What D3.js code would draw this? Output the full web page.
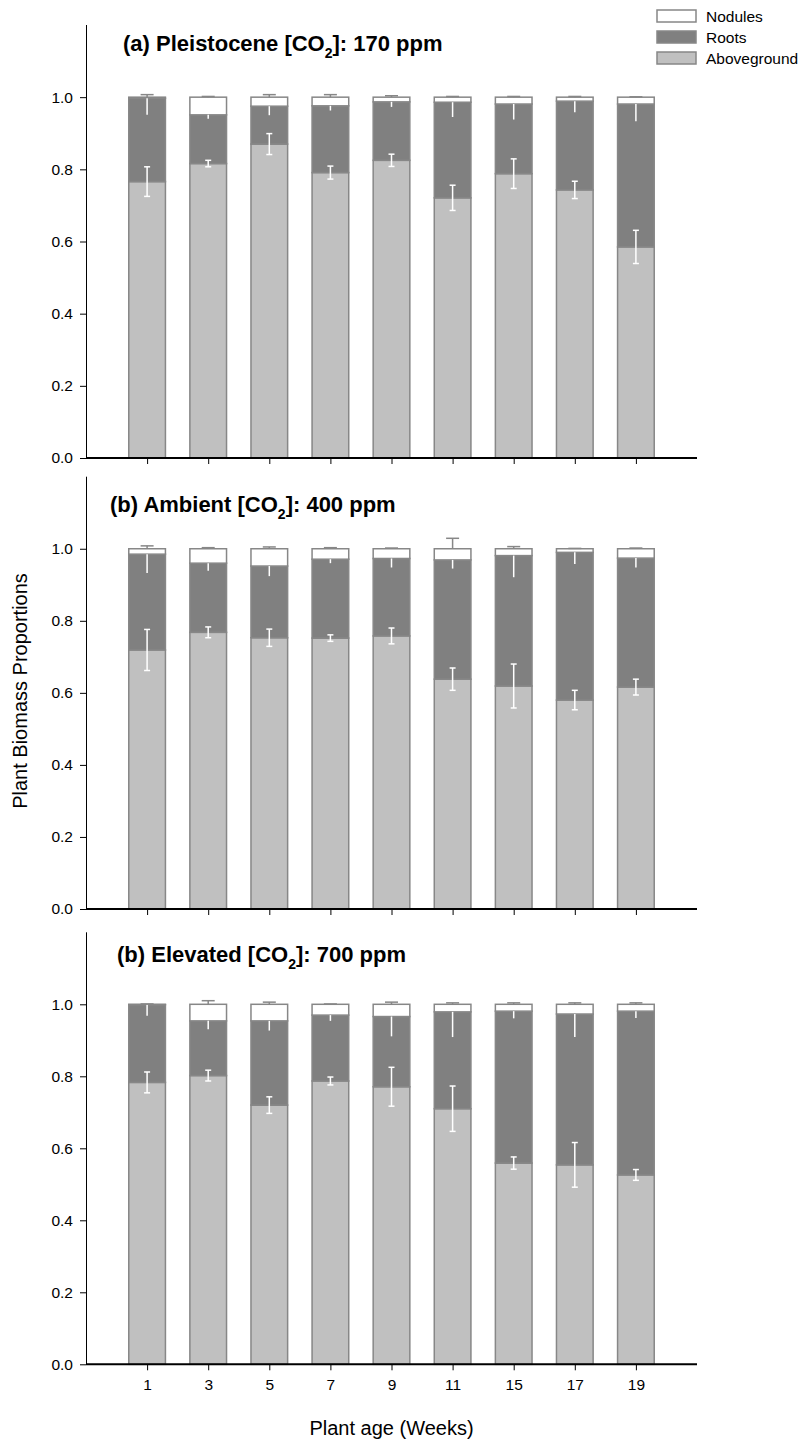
<!DOCTYPE html>
<html>
<head>
<meta charset="utf-8">
<script src="https://cdn.jsdelivr.net/npm/d3@7"></script>
<style>
  html, body { margin: 0; padding: 0; background: #fff; }
  svg { display: block; font-family: "Liberation Sans", Arial, Helvetica, sans-serif; }
</style>
</head>
<body>
<svg id="chart" width="804" height="1441"></svg>
<script>
// Plant age categories (weeks)
const weeks = ["1", "3", "5", "7", "9", "11", "15", "17", "19"];
const yTicks = [0, 0.2, 0.4, 0.6, 0.8, 1.0];
const componentNames = ["Nodules", "Roots", "Aboveground"];

// Panel titles (CO2 subscript handled separately)
const titlePrefix = ["(a) Pleistocene [CO", "(b) Ambient [CO", "(b) Elevated [CO"];
const titleSub = "2";
const titleSuffix = ["]: 170 ppm", "]: 400 ppm", "]: 700 ppm"];

// (a) 170 ppm — biomass proportions and standard errors
const above170    = [0.766, 0.816, 0.870, 0.791, 0.825, 0.721, 0.788, 0.743, 0.585];
const roots170    = [0.231, 0.135, 0.105, 0.185, 0.162, 0.265, 0.193, 0.246, 0.396];
const nodules170  = [0.003, 0.049, 0.025, 0.024, 0.013, 0.014, 0.019, 0.011, 0.019];
const aboveErr170 = [0.041, 0.009, 0.029, 0.018, 0.017, 0.035, 0.041, 0.024, 0.046];
const rootsErr170 = [0.046, 0.011, 0.025, 0.013, 0.014, 0.041, 0.043, 0.031, 0.048];
const nodErr170   = [0.007, 0.002, 0.007, 0.007, 0.004, 0.002, 0.002, 0.002, 0.001];

// (b) 400 ppm
const above400    = [0.719, 0.768, 0.753, 0.752, 0.758, 0.638, 0.619, 0.580, 0.616];
const roots400    = [0.266, 0.192, 0.199, 0.219, 0.215, 0.331, 0.362, 0.410, 0.358];
const nodules400  = [0.015, 0.040, 0.048, 0.029, 0.027, 0.031, 0.019, 0.010, 0.026];
const aboveErr400 = [0.057, 0.015, 0.024, 0.009, 0.022, 0.031, 0.061, 0.027, 0.022];
const rootsErr400 = [0.052, 0.021, 0.028, 0.011, 0.025, 0.024, 0.060, 0.032, 0.026];
const nodErr400   = [0.008, 0.003, 0.005, 0.003, 0.002, 0.029, 0.006, 0.001, 0.002];

// (c) 700 ppm
const above700    = [0.783, 0.802, 0.720, 0.787, 0.771, 0.710, 0.559, 0.554, 0.526];
const roots700    = [0.216, 0.152, 0.234, 0.183, 0.195, 0.269, 0.422, 0.419, 0.455];
const nodules700  = [0.001, 0.046, 0.046, 0.030, 0.034, 0.021, 0.019, 0.027, 0.019];
const aboveErr700 = [0.029, 0.015, 0.023, 0.011, 0.054, 0.063, 0.017, 0.062, 0.015];
const rootsErr700 = [0.031, 0.023, 0.027, 0.016, 0.055, 0.070, 0.020, 0.064, 0.019];
const nodErr700   = [0.001, 0.010, 0.006, 0.001, 0.006, 0.004, 0.004, 0.004, 0.004];

const datasets = [
  { above: above170, roots: roots170, nodules: nodules170, aErr: aboveErr170, rErr: rootsErr170, nErr: nodErr170 },
  { above: above400, roots: roots400, nodules: nodules400, aErr: aboveErr400, rErr: rootsErr400, nErr: nodErr400 },
  { above: above700, roots: roots700, nodules: nodules700, aErr: aboveErr700, rErr: rootsErr700, nErr: nodErr700 }
];

// Layout
const panels = [
  { top: 25,    bottom: 458,    titleX: 123, titleY: 50.5 },
  { top: 476.7, bottom: 909,    titleX: 110, titleY: 511.5 },
  { top: 932.3, bottom: 1364.3, titleX: 117, titleY: 961.5 }
];
const xLeft = 86, xRight = 697;
const barWidthUnits = 0.6;
const colors = { Nodules: "#ffffff", Roots: "#808080", Aboveground: "#c0c0c0" };
const outline = "#878787";
const tickFont = 15.5;

const svg = d3.select("#chart");
const x = d3.scaleLinear().domain([0, weeks.length + 1]).range([xLeft, xRight]);
const barW = x(barWidthUnits) - x(0);

panels.forEach((p, pi) => {
  const data = datasets[pi];
  const y = d3.scaleLinear().domain([0, 1.2]).range([p.bottom, p.top]);
  const g = svg.append("g");

  const rows = weeks.map((w, i) => {
    const a = data.above[i], r = data.roots[i], n = data.nodules[i];
    return {
      i, w,
      segs: [
        { key: "Aboveground", y0: 0, y1: a },
        { key: "Roots", y0: a, y1: a + r },
        { key: "Nodules", y0: a + r, y1: a + r + n }
      ],
      a, rTop: a + r, total: a + r + n,
      aErr: data.aErr[i], rErr: data.rErr[i], nErr: data.nErr[i]
    };
  });

  // stacked bars
  const barG = g.selectAll("g.bar").data(rows).join("g").attr("class", "bar");
  barG.selectAll("rect").data(d => d.segs.map(s => ({ ...s, i: d.i }))).join("rect")
    .attr("x", d => x(d.i + 1) - barW / 2)
    .attr("width", barW)
    .attr("y", d => y(d.y1))
    .attr("height", d => Math.max(0, y(d.y0) - y(d.y1)))
    .attr("fill", d => colors[d.key])
    .attr("stroke", outline)
    .attr("stroke-width", 1.5);

  // aboveground error bars (white, both directions)
  const capA = 3;
  rows.forEach(d => {
    const cx = x(d.i + 1);
    const y1 = y(d.a + d.aErr), y2 = y(d.a - d.aErr);
    g.append("line").attr("x1", cx).attr("x2", cx).attr("y1", y1).attr("y2", y2)
      .attr("stroke", "#fff").attr("stroke-width", 1.5);
    [y1, y2].forEach(yy => g.append("line").attr("x1", cx - capA).attr("x2", cx + capA)
      .attr("y1", yy).attr("y2", yy).attr("stroke", "#fff").attr("stroke-width", 1.5));

    // roots error bar (white, visible part below the segment top)
    g.append("line").attr("x1", cx).attr("x2", cx)
      .attr("y1", y(d.rTop)).attr("y2", y(d.rTop - d.rErr))
      .attr("stroke", "#fff").attr("stroke-width", 1.5);

    // nodule error bar (grey, above the bar)
    const yn = y(d.total + d.nErr);
    g.append("line").attr("x1", cx).attr("x2", cx)
      .attr("y1", y(d.total)).attr("y2", yn)
      .attr("stroke", outline).attr("stroke-width", 1.5);
    g.append("line").attr("x1", cx - 6.5).attr("x2", cx + 6.5)
      .attr("y1", yn).attr("y2", yn)
      .attr("stroke", outline).attr("stroke-width", 1.5);
  });

  // y axis
  const yAxis = d3.axisLeft(y).tickValues(yTicks).tickFormat(d3.format(".1f"))
    .tickSize(6).tickPadding(7);
  const ya = g.append("g").attr("transform", `translate(${xLeft},0)`).call(yAxis);
  ya.select(".domain").attr("d", `M0.5,${p.top}V${p.bottom}`).attr("stroke", "#000").attr("stroke-width", 1);
  ya.selectAll(".tick line").attr("stroke", "#000");
  ya.selectAll(".tick text").attr("font-size", tickFont).attr("fill", "#000")
    .attr("font-family", "'Liberation Sans', Arial, sans-serif");

  // x axis
  const xAxis = d3.axisBottom(x).tickValues(weeks.map((w, i) => i + 1))
    .tickFormat(pi === panels.length - 1 ? (v => weeks[v - 1]) : () => "")
    .tickSize(6).tickPadding(9);
  const xa = g.append("g").attr("transform", `translate(0,${p.bottom})`).call(xAxis);
  xa.select(".domain").attr("d", `M${xLeft},0H${xRight}`).attr("stroke", "#000").attr("stroke-width", 2);
  xa.selectAll(".tick line").attr("stroke", "#000");
  xa.selectAll(".tick text").attr("font-size", tickFont).attr("fill", "#000")
    .attr("font-family", "'Liberation Sans', Arial, sans-serif");

  // panel title
  const t = g.append("text").attr("x", p.titleX).attr("y", p.titleY)
    .attr("font-size", 22).attr("font-weight", "bold").attr("fill", "#000");
  t.append("tspan").text(titlePrefix[pi]);
  t.append("tspan").attr("dy", 7).attr("font-size", 14).text(titleSub);
  t.append("tspan").attr("dy", -7).text(titleSuffix[pi]);
});

// axis titles
svg.append("text")
  .attr("transform", `translate(27,691) rotate(-90)`)
  .attr("text-anchor", "middle")
  .attr("font-size", 20).attr("fill", "#000")
  .text("Plant Biomass Proportions");

svg.append("text")
  .attr("x", (xLeft + xRight) / 2).attr("y", 1435)
  .attr("text-anchor", "middle")
  .attr("font-size", 20).attr("fill", "#000")
  .text("Plant age (Weeks)");

// legend
const legend = svg.append("g").attr("transform", "translate(657,10)");
const li = legend.selectAll("g").data(componentNames).join("g")
  .attr("transform", (d, i) => `translate(0,${i * 21})`);
li.append("rect").attr("width", 39).attr("height", 12)
  .attr("fill", d => colors[d]).attr("stroke", outline).attr("stroke-width", 1.5);
li.append("text").attr("x", 49).attr("y", 6).attr("dy", "0.36em")
  .attr("font-size", tickFont).attr("fill", "#000").text(d => d);
</script>
</body>
</html>
